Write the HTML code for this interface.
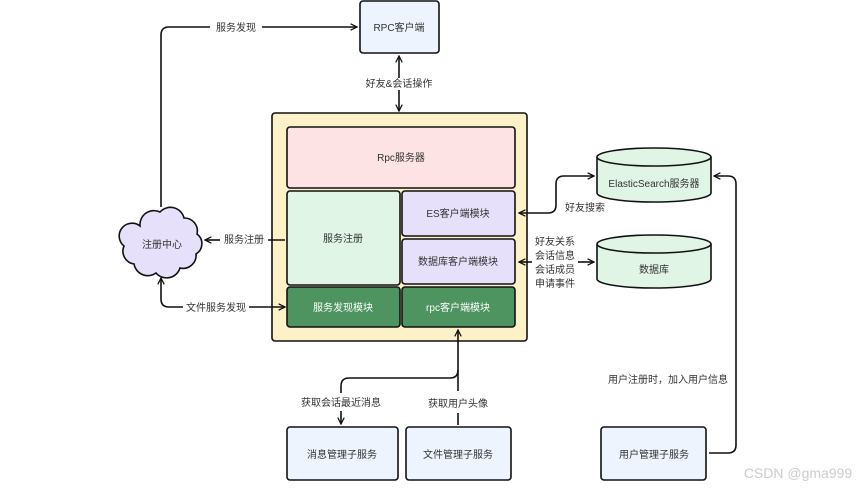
<!DOCTYPE html>
<html><head><meta charset="utf-8"><style>
html,body{margin:0;padding:0;background:#fff;}
svg{display:block;}
text{font-family:"Liberation Sans","Noto Sans CJK SC",sans-serif;font-size:10px;fill:#333;}
</style></head><body>
<svg width="863" height="490" viewBox="0 0 863 490" xmlns="http://www.w3.org/2000/svg">
<defs>
<marker id="a" viewBox="0 0 10 10" refX="9" refY="5" markerWidth="8" markerHeight="8" orient="auto-start-reverse" markerUnits="userSpaceOnUse">
<path d="M1,1 L9,5 L1,9" fill="none" stroke="#111" stroke-width="1.6"/></marker>
</defs>
<g stroke="#111" stroke-width="1.6" fill="none">
<!-- RPC client -->
<rect x="360" y="1" width="79" height="52" rx="3" fill="#eef4fd"/>
<!-- container -->
<rect x="272" y="113" width="255" height="228" rx="3" fill="#fdf1c8"/>
<rect x="287" y="127" width="228" height="61" rx="3" fill="#fde3e3"/>
<rect x="287" y="191" width="113" height="94" rx="3" fill="#e0f5e6"/>
<rect x="402" y="191" width="113" height="45" rx="3" fill="#e6e0fb"/>
<rect x="402" y="239" width="113" height="45" rx="3" fill="#e6e0fb"/>
<rect x="287" y="287" width="113" height="40" rx="3" fill="#4e9460"/>
<rect x="402" y="287" width="113" height="40" rx="3" fill="#4e9460"/>
<!-- bottom boxes -->
<rect x="287" y="427" width="111" height="53" rx="3" fill="#eef4fd"/>
<rect x="406" y="427" width="105" height="53" rx="3" fill="#eef4fd"/>
<rect x="601" y="427" width="105" height="53" rx="3" fill="#eef4fd"/>
<!-- cylinders -->
<path d="M597,157 L597,193 A57,9 0 0 0 711,193 L711,157" fill="#e0f5e6"/>
<ellipse cx="654" cy="157" rx="57" ry="9" fill="#e0f5e6"/>
<path d="M597,244 L597,279 A57,9 0 0 0 711,279 L711,244" fill="#e0f5e6"/>
<ellipse cx="654" cy="244" rx="57" ry="9" fill="#e0f5e6"/>
<!-- cloud -->
<path d="M140,226 A14,14 0 0 1 160,212 A14,14 0 0 1 184,218 A13,13 0 0 1 197,234 A12,12 0 0 1 196,254 A13,13 0 0 1 180,268 A14,14 0 0 1 156,273 A14,14 0 0 1 134,264 A13,13 0 0 1 124,246 A12,12 0 0 1 140,226 Z" fill="#e6e0fb"/>
<!-- connectors -->
<path d="M161,207 L161,35 Q161,27 169,27 L210,27"/>
<path d="M262,27 L357,27" marker-end="url(#a)"/>
<path d="M399,78 L399,56" marker-end="url(#a)"/>
<path d="M399,90 L399,111" marker-end="url(#a)"/>
<path d="M268,240 L285,240"/>
<path d="M220,240 L205,240" marker-end="url(#a)"/>
<path d="M183,307 L169,307 Q161,307 161,299 L161,278" marker-end="url(#a)"/>
<path d="M249,307 L285,307" marker-end="url(#a)"/>
<path d="M519,213 L548,213 Q556,213 556,205 L556,184 Q556,176 564,176 L594,176" marker-start="url(#a)" marker-end="url(#a)"/>
<path d="M532,262 L519,262" marker-end="url(#a)"/>
<path d="M578,262 L594,262" marker-end="url(#a)"/>
<path d="M709,453 L728,453 Q736,453 736,445 L736,184 Q736,176 728,176 L714,176" marker-end="url(#a)"/>
<path d="M458,391 L458,330" marker-end="url(#a)"/>
<path d="M458,370 Q458,378 450,378 L349,378 Q341,378 341,386 L341,393"/>
<path d="M341,411 L341,424" marker-end="url(#a)"/>
<path d="M458,413 L458,425"/>
</g>
<g text-anchor="middle">
<text x="399" y="31">RPC客户端</text>
<text x="236" y="31">服务发现</text>
<text x="399" y="87">好友&amp;会话操作</text>
<text x="401" y="161">Rpc服务器</text>
<text x="343" y="242">服务注册</text>
<text x="458" y="217">ES客户端模块</text>
<text x="458" y="265">数据库客户端模块</text>
<text x="343" y="311" style="fill:#fff">服务发现模块</text>
<text x="458" y="311" style="fill:#fff">rpc客户端模块</text>
<text x="244" y="243">服务注册</text>
<text x="216" y="311">文件服务发现</text>
<text x="162" y="248">注册中心</text>
<text x="654" y="187">ElasticSearch服务器</text>
<text x="654" y="273">数据库</text>
<text x="585" y="211">好友搜索</text>
<text x="555" y="245">好友关系</text>
<text x="555" y="259">会话信息</text>
<text x="555" y="273">会话成员</text>
<text x="555" y="287">申请事件</text>
<text x="668" y="383">用户注册时，加入用户信息</text>
<text x="341" y="406">获取会话最近消息</text>
<text x="458" y="407">获取用户头像</text>
<text x="342" y="458">消息管理子服务</text>
<text x="458" y="458">文件管理子服务</text>
<text x="654" y="458">用户管理子服务</text>
<text x="798" y="478" style="font-size:14px;fill:#ccc">CSDN @gma999</text>
</g>
</svg>
</body></html>
